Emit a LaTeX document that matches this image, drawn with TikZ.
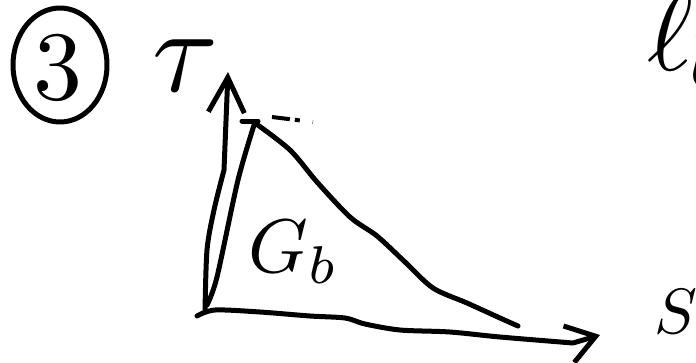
\documentclass[tikz,border=0pt]{standalone}
\usepackage{amsmath, amssymb}
\usetikzlibrary{arrows.meta}

\begin{document}
\begin{tikzpicture}[x=1pt,y=-1pt,line width=5pt,line cap=round,line join=round]
  \useasboundingbox (0,0) rectangle (696,362);
  \clip (0,0) rectangle (696,362);
  % circled number
  \draw (60,65) ellipse (47 and 57);
  \node[scale=9.8] (num) at (58,68) {3};
  % axes
  \coordinate (o) at (205,312);
  \coordinate (ttip) at (228,72);
  \coordinate (stip) at (600,335);
  \draw[-{Straight Barb[length=35pt,width=36pt]}] plot[smooth] coordinates {(o) (207,250) (214,210) (224,170)} -- (ttip);
  \draw[-{Straight Barb[length=28pt,width=38pt]}] plot[smooth] coordinates {(197,316) (215,310) (260,312) (310,316) (345,318) (365,324) (400,330) (450,332) (500,337) (573,343)} -- (stip);
  \node[scale=12] (tau) at (186,66) {$\tau$};
  \node[scale=6.4] (slabel) at (676,312) {$S$};
  % curve
  \draw plot[smooth] coordinates {(207,305) (217,277) (238,180) (255,122)};
  \draw plot[smooth] coordinates {(255,123) (290,150) (317,182) (350,217) (377,236) (405,262) (433,288) (467,303) (500,318) (518,326)};
  \draw (242,121) -- (258,121);
  \draw[line width=4pt,line cap=butt,dash pattern=on 18pt off 5pt on 5pt off 13pt on 6pt off 4pt] (272,117) -- (313,122);
  \node[scale=7.6] (area) at (294,252) {$G_b$};
  \node[scale=11] (lb) at (690,41) {$\ell_{\mkern-1mu b}$};
\end{tikzpicture}
\end{document}
